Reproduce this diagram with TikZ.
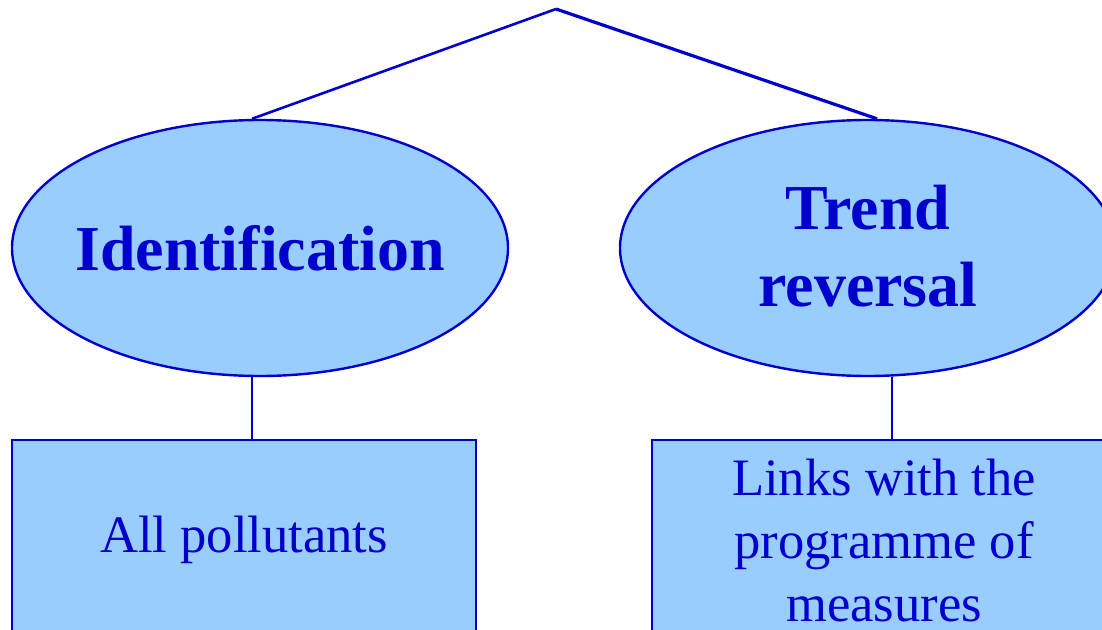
\documentclass[tikz,border=0pt]{standalone}
\usepackage{fontspec}
\setmainfont{Liberation Serif}
\usetikzlibrary{shapes.geometric}
\definecolor{ink}{RGB}{0,0,204}
\definecolor{pale}{RGB}{153,204,255}
\begin{document}
\begin{tikzpicture}[x=1pt,y=-1pt,
  lnk/.style={draw=ink,line width=2.6pt},
  oval/.style={ellipse,draw=ink,line width=2.4pt,fill=pale,minimum width=496pt,minimum height=256pt,inner sep=0pt},
  ovaltext/.style={text=ink,align=center,inner sep=0pt,font=\fontsize{64}{77}\selectfont\bfseries},
  boxnode/.style={rectangle,draw=ink,line width=2.4pt,fill=pale,text=ink,minimum width=464pt,minimum height=200pt,inner sep=0pt,align=center,font=\fontsize{52.6}{63}\selectfont}]
\useasboundingbox (0,0) rectangle (1102,629);
\clip (0,0) rectangle (1102,629);
\coordinate (apex) at (556,9);
\node[oval] (L) at (260,248) {};
\node[ovaltext] (Lt) at (L.center) {Identification};
\node[oval] (R) at (868,248) {};
\node[ovaltext] (Rt) at ([yshift=2pt]R.center) {Trend\\reversal};
\node[boxnode] (LB) at (244,540) {All pollutants};
\node[boxnode] (RB) at (884,540) {Links with the\\programme of\\measures};
\draw[lnk] (apex) -- ([xshift=-8pt]L.north);
\draw[lnk,line width=3.2pt] (apex) -- ([xshift=9pt]R.north);
\draw[lnk] ([xshift=-8pt]L.south) -- ([xshift=-8pt]L.south |- LB.north);
\draw[lnk] ([xshift=24pt]R.south) -- ([xshift=24pt]R.south |- RB.north);
\end{tikzpicture}
\end{document}
